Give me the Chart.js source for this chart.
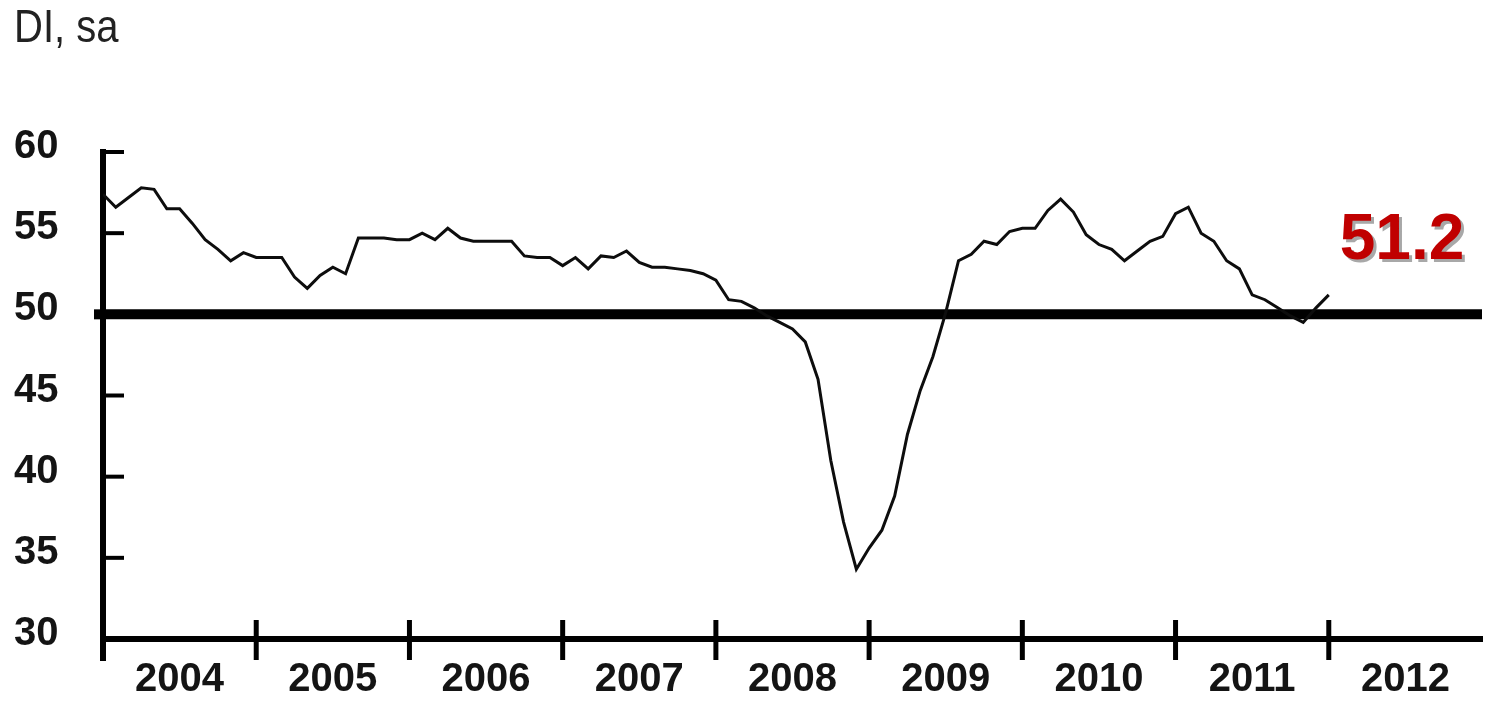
<!DOCTYPE html>
<html>
<head>
<meta charset="utf-8">
<script src="https://cdn.jsdelivr.net/npm/chart.js@4/dist/chart.umd.min.js"></script>
<style>
  html, body { margin: 0; padding: 0; background: #fff; }
  #wrap { width: 1485px; height: 701px; }
</style>
</head>
<body>
<div id="wrap"><canvas id="c" width="1485" height="701"></canvas></div>
<script>
// ---- data ----
const yearLabels = ['2004', '2005', '2006', '2007', '2008', '2009', '2010', '2011', '2012'];
const yTickValues = [30, 35, 40, 45, 50, 55, 60];
// monthly index values, Jan 2004 .. Jan 2012
const diValues = [
  57.4, 56.6, 57.2, 57.8, 57.7, 56.5, 56.5, 55.6, 54.6, 54.0, 53.3, 53.8,
  53.5, 53.5, 53.5, 52.3, 51.6, 52.4, 52.9, 52.5, 54.7, 54.7, 54.7, 54.6,
  54.6, 55.0, 54.6, 55.3, 54.7, 54.5, 54.5, 54.5, 54.5, 53.6, 53.5, 53.5,
  53.0, 53.5, 52.8, 53.6, 53.5, 53.9, 53.2, 52.9, 52.9, 52.8, 52.7, 52.5,
  52.1, 50.9, 50.8, 50.4, 49.9, 49.5, 49.1, 48.3, 46.0, 41.0, 37.2, 34.3,
  35.6, 36.7, 38.8, 42.6, 45.3, 47.4, 50.1, 53.3, 53.7, 54.5, 54.3, 55.1,
  55.3, 55.3, 56.4, 57.1, 56.3, 54.9, 54.3, 54.0, 53.3, 53.9, 54.5, 54.8,
  56.2, 56.6, 55.0, 54.5, 53.3, 52.8, 51.2, 50.9, 50.4, 49.9, 49.5, 50.4,
  51.2
];
const thresholdValue = 50;
const latestLabel = '51.2';
const unitTitle = 'DI, sa';

const monthsTotal = yearLabels.length * 12;
const tickFont = { family: '"Liberation Sans", Arial, sans-serif', size: 40, weight: 'bold' };

const decorPlugin = {
  id: 'decor',
  afterDraw(chart) {
    const { ctx, chartArea, scales } = chart;
    const xs = scales.x, ys = scales.y;
    ctx.save();
    ctx.strokeStyle = '#000';
    ctx.lineCap = 'butt';
    // y tick marks pointing inward
    ctx.lineWidth = 4;
    yTickValues.forEach(v => {
      const py = ys.getPixelForValue(v);
      ctx.beginPath();
      ctx.moveTo(chartArea.left, py);
      ctx.lineTo(chartArea.left + 21, py);
      ctx.stroke();
    });
    // threshold bar stub left of the axis
    ctx.lineWidth = 10;
    const p50 = ys.getPixelForValue(thresholdValue);
    ctx.beginPath();
    ctx.moveTo(chartArea.left - 9, p50);
    ctx.lineTo(chartArea.left, p50);
    ctx.stroke();
    // y axis extension below the x axis
    ctx.lineWidth = 6;
    ctx.beginPath();
    ctx.moveTo(chartArea.left, chartArea.bottom);
    ctx.lineTo(chartArea.left, chartArea.bottom + 22);
    ctx.stroke();
    // year boundary marks on the x axis
    ctx.lineWidth = 5;
    for (let i = 1; i < yearLabels.length; i++) {
      const px = xs.getPixelForValue(i * 12);
      ctx.beginPath();
      ctx.moveTo(px, chartArea.bottom - 19);
      ctx.lineTo(px, chartArea.bottom + 21);
      ctx.stroke();
    }
    // unit title
    ctx.save();
    ctx.fillStyle = '#222';
    ctx.font = '40px "Liberation Sans", Arial, sans-serif';
    ctx.textBaseline = 'alphabetic';
    ctx.translate(14, 42);
    ctx.scale(1, 1.15);
    ctx.fillText(unitTitle, 0, 0);
    ctx.restore();
    // latest value label
    ctx.save();
    ctx.font = 'bold 64px "Liberation Sans", Arial, sans-serif';
    ctx.textAlign = 'center';
    ctx.textBaseline = 'alphabetic';
    const lx = chartArea.right - 80, ly = 259;
    ctx.fillStyle = '#a8a8a8';
    ctx.fillText(latestLabel, lx + 3, ly + 3);
    ctx.fillStyle = '#c00000';
    ctx.fillText(latestLabel, lx, ly);
    ctx.restore();
    ctx.restore();
  }
};

new Chart(document.getElementById('c'), {
  type: 'line',
  data: {
    datasets: [
      {
        data: [{ x: 0, y: thresholdValue }, { x: monthsTotal, y: thresholdValue }],
        borderColor: '#000',
        borderWidth: 10,
        pointRadius: 0,
        tension: 0,
        order: 2
      },
      {
        data: diValues.map((v, i) => ({ x: i, y: v })),
        borderColor: '#0d0d0d',
        borderWidth: 3,
        pointRadius: 0,
        tension: 0,
        order: 1
      }
    ]
  },
  options: {
    responsive: false,
    animation: false,
    layout: { padding: { top: 152, right: 3, left: 14, bottom: 0 } },
    plugins: { legend: { display: false }, tooltip: { enabled: false }, title: { display: false } },
    scales: {
      x: {
        type: 'linear',
        min: 0,
        max: monthsTotal,
        afterBuildTicks: s => { s.ticks = yearLabels.map((_, i) => ({ value: i * 12 + 6 })); },
        afterFit: s => { s.height = 62; },
        grid: { display: false, drawTicks: false, tickLength: 0 },
        border: { display: true, color: '#000', width: 6 },
        ticks: {
          autoSkip: false,
          maxRotation: 0,
          padding: 17,
          color: '#141414',
          font: tickFont,
          callback: v => yearLabels[Math.round((v - 6) / 12)]
        }
      },
      y: {
        type: 'linear',
        min: 30,
        max: 60,
        afterBuildTicks: s => { s.ticks = yTickValues.map(v => ({ value: v })); },
        afterFit: s => { s.width = 89; },
        grid: { display: false, drawTicks: false, tickLength: 0 },
        border: { display: true, color: '#000', width: 6 },
        ticks: {
          padding: 0,
          crossAlign: 'far',
          labelOffset: -5,
          color: '#141414',
          font: tickFont,
          callback: v => String(v)
        }
      }
    }
  },
  plugins: [decorPlugin]
});
</script>
</body>
</html>
